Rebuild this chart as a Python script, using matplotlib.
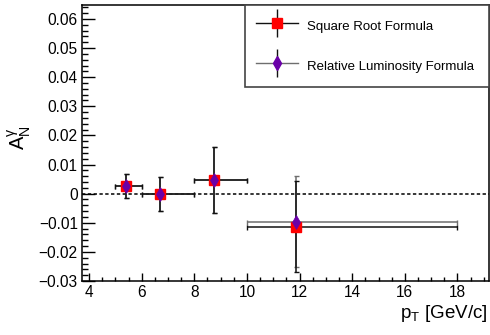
import matplotlib
matplotlib.use("Agg")
import matplotlib.pyplot as plt
from matplotlib.lines import Line2D
from matplotlib.legend_handler import HandlerTuple
from matplotlib.ticker import MultipleLocator, FuncFormatter
import numpy as np

plt.rcParams['font.family'] = ['Liberation Sans', 'DejaVu Sans']
plt.rcParams['mathtext.fontset'] = 'custom'
plt.rcParams['mathtext.rm'] = 'Liberation Sans'
plt.rcParams['mathtext.it'] = 'Liberation Sans'
plt.rcParams['mathtext.default'] = 'regular'

# ---- data ----
pt_mean = [5.40, 6.68, 8.75, 11.87]
bin_low = [5.0, 6.0, 8.0, 10.0]
bin_high = [6.0, 8.0, 10.0, 18.0]
sqrt_vals = [0.0027, -0.0001, 0.0047, -0.0113]
sqrt_errs = [0.0041, 0.0057, 0.0113, 0.0155]
lumi_vals = [0.0027, -0.0001, 0.0047, -0.0096]
lumi_errs = [0.0041, 0.0057, 0.0113, 0.0155]
series_labels = ["Square Root Formula", "Relative Luminosity Formula"]
x_ticks = [4, 6, 8, 10, 12, 14, 16, 18]
y_ticks = [-0.03, -0.02, -0.01, 0.0, 0.01, 0.02, 0.03, 0.04, 0.05, 0.06]

pt = np.array(pt_mean)
xerr = [pt - np.array(bin_low), np.array(bin_high) - pt]

fig = plt.figure(figsize=(4.9, 3.35), dpi=100)
ax = fig.add_axes([82/490, 54/335, 407/490, 276/335])

purple = '#6a00a8'
red = '#ff0000'

ax.axhline(0, color='k', lw=1.1, ls=(0, (2.2, 1.6)), zorder=1)

# purple (relative luminosity) bars, gray
ax.errorbar(pt, lumi_vals, xerr=xerr, yerr=lumi_errs, fmt='none',
            ecolor='#6e6e6e', elinewidth=1.1, capsize=1.8, capthick=1.0, zorder=2)
# red (square root) bars, black
ax.errorbar(pt, sqrt_vals, xerr=xerr, yerr=sqrt_errs, fmt='none',
            ecolor='#111111', elinewidth=1.1, capsize=1.8, capthick=1.0, zorder=3)
ax.plot(pt, sqrt_vals, 's', color=red, ms=6.8, mec=red, zorder=4)
ax.plot(pt, lumi_vals, 'd', color=purple, ms=7.0, mec=purple, mew=0.5, zorder=5)

ax.set_xlim(3.73, 19.2)
ax.set_ylim(-0.03, 0.0648)

ax.set_xticks(x_ticks)
ax.set_yticks(y_ticks)
ax.xaxis.set_minor_locator(MultipleLocator(0.5))
ax.yaxis.set_minor_locator(MultipleLocator(0.002))

def yfmt(v, pos):
    if abs(v) < 1e-9:
        return "0"
    s = f"{v:.2f}"
    return s.replace('-', '\u2212')

ax.yaxis.set_major_formatter(FuncFormatter(yfmt))
ax.xaxis.set_major_formatter(FuncFormatter(lambda v, p: f"{v:.0f}"))

ax.tick_params(axis='both', which='both', direction='in', top=False, right=False,
               labelsize=11.2, width=1.0, colors='k')
ax.tick_params(axis='y', which='major', length=9, pad=3)
ax.tick_params(axis='y', which='minor', length=4.5)
ax.tick_params(axis='x', which='major', length=6, pad=3)
ax.tick_params(axis='x', which='minor', length=3)
for sp in ax.spines.values():
    sp.set_linewidth(1.1)

# legend
h_red = (Line2D([], [], color='#111111', lw=1.0),
         Line2D([], [], marker='|', ms=20, mew=1.0, color='#111111', ls='none'),
         Line2D([], [], marker='s', ms=6.8, color=red, ls='none'))
h_pur = (Line2D([], [], color='#6e6e6e', lw=1.0),
         Line2D([], [], marker='|', ms=20, mew=1.0, color='#111111', ls='none'),
         Line2D([], [], marker='d', ms=7.0, color=purple, ls='none'))
x0 = (245 - 82) / 407
y0 = (281 - 97) / 276
leg = ax.legend([h_red, h_pur], series_labels,
                handler_map={tuple: HandlerTuple(ndivide=1, pad=0)},
                loc='upper left', bbox_to_anchor=(x0, y0, 1 - x0, 1 - y0),
                mode='expand', borderaxespad=0, borderpad=0.8,
                handlelength=3.2, handleheight=2.0, handletextpad=0.7,
                labelspacing=1.5, fontsize=9.5, fancybox=False, frameon=True,
                numpoints=1)
leg.get_frame().set_edgecolor('#444444')
leg.get_frame().set_linewidth(1.2)
leg.get_frame().set_alpha(1)

fig.text(19/490, 1 - 138/335, r'$A_{N}^{\gamma}$', rotation=90,
         ha='center', va='center', fontsize=14.5)
fig.text(488/490, 1 - 318/335, r'p$_{T}$ [GeV/c]', ha='right', va='baseline',
         fontsize=13.5)

fig.savefig('out.png', dpi=100)
